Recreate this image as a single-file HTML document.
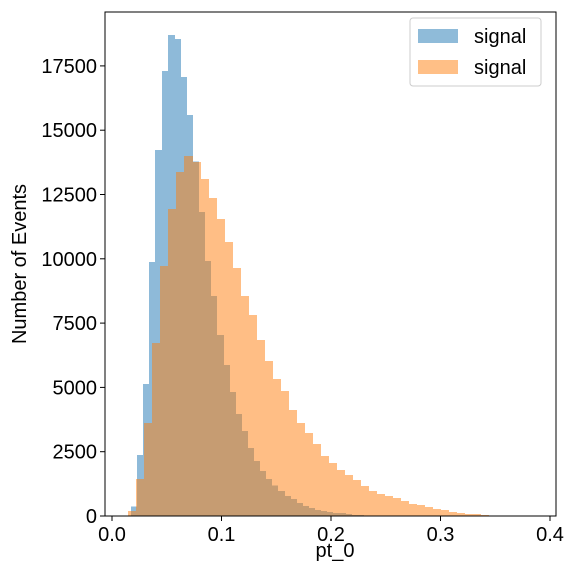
<!DOCTYPE html>
<html><head><meta charset="utf-8"><style>
body{margin:0;background:#fff;}
svg text{font-family:"Liberation Sans",sans-serif;fill:#000;}
</style></head><body>
<svg id="chart" width="576" height="576" xmlns="http://www.w3.org/2000/svg">
<rect x="0" y="0" width="576" height="576" fill="#fff"/>
<g id="bars" shape-rendering="crispEdges"></g>
<g id="axes"></g>
<text x="335" y="557" font-size="20" text-anchor="middle">pt_0</text>
<text transform="translate(26,264) rotate(-90)" font-size="20" text-anchor="middle">Number of Events</text>
<g>
<rect x="410" y="18" width="131" height="68" rx="3" fill="#fff" fill-opacity="0.8" stroke="#ccc"/>
<rect x="418" y="29" width="40" height="14" fill="#1f77b4" fill-opacity="0.5"/>
<text x="474" y="43" font-size="20">signal</text>
<rect x="418" y="60" width="40" height="14" fill="#ff7f0e" fill-opacity="0.5"/>
<text x="474" y="74" font-size="20">signal</text>
</g>
</svg>
<script>
const blueStart = 0.0174, blueWidth = 0.00557;
const blueCounts = [363,2370,5130,9880,14230,17300,18700,18550,17070,15590,13780,11820,9910,8560,7040,5870,4820,3970,3300,2640,2140,1750,1440,1180,970,780,660,510,390,310,230,190,155,117,117,78,40,40];
const orangeStart = 0.0146, orangeWidth = 0.0073;
const orangeCounts = [195,1440,3620,6730,9720,11940,13380,14000,13770,13100,12370,11550,10650,9640,8550,7820,6840,6030,5330,4860,4120,3620,3230,2800,2330,2060,1790,1590,1400,1170,970,860,780,700,580,470,430,350,270,230,160,120,80,80,40];
const xTicks = [0.0,0.1,0.2,0.3,0.4];
const xTickLabels = ["0.0","0.1","0.2","0.3","0.4"];
const yTicks = [0,2500,5000,7500,10000,12500,15000,17500];

const NS="http://www.w3.org/2000/svg";
const L=105,R=556,T=12,B=516;
const xs=v=>112+v*1095;
const ys=v=>B-v*0.02572;
const bars=document.getElementById('bars');
const axes=document.getElementById('axes');
function mk(tag,attrs,parent){const e=document.createElementNS(NS,tag);for(const k in attrs)e.setAttribute(k,attrs[k]);parent.appendChild(e);return e;}
function drawSeries(start,w,counts,color,name){
  const g=mk('g',{fill:color,'fill-opacity':0.5},bars);
  
  
  const inner=mk('g',{'fill-opacity':1},g);
  
  
  // draw opaque bars inside a group with opacity so adjacent bars don't double up
  g.removeAttribute('fill-opacity');
  g.setAttribute('opacity','0.5');
  counts.forEach((c,i)=>{
    const x0=Math.round(xs(start+i*w)),x1=Math.round(xs(start+(i+1)*w));
    const r=mk('rect',{x:x0,y:ys(c),width:x1-x0+1,height:B-ys(c)},inner);
    
    
  });
}
drawSeries(blueStart,blueWidth,blueCounts,'#1f77b4','blue');
drawSeries(orangeStart,orangeWidth,orangeCounts,'#ff7f0e','orange');
const frame=mk('rect',{x:L,y:T,width:R-L,height:B-T,fill:'none',stroke:'#000','stroke-width':1},axes);


xTicks.forEach((v,i)=>{
  const t=mk('line',{x1:xs(v),x2:xs(v),y1:B,y2:B+5,stroke:'#000'},axes);
  
  
  const tx=mk('text',{x:xs(v),y:B+25,'font-size':20,'text-anchor':'middle'},axes);
  tx.textContent=xTickLabels[i];
  
  
});
yTicks.forEach(v=>{
  const t=mk('line',{x1:L-5,x2:L,y1:ys(v),y2:ys(v),stroke:'#000'},axes);
  
  
  const tx=mk('text',{x:L-8,y:ys(v)+7,'font-size':20,'text-anchor':'end'},axes);
  tx.textContent=String(v);
  
  
});
</script>
</body></html>
